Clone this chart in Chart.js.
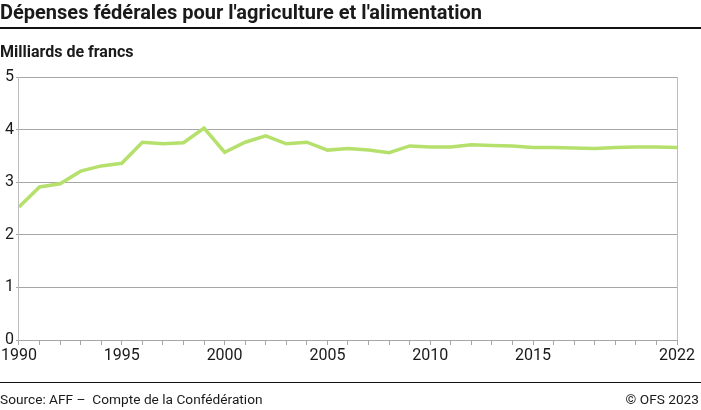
<!DOCTYPE html>
<html><head><meta charset="utf-8">
<script src="https://cdn.jsdelivr.net/npm/chart.js@4/dist/chart.umd.min.js"></script>
<style>
html,body{margin:0;padding:0;background:#fff;}
#wrap{position:relative;width:701px;height:410px;overflow:hidden;font-family:Roboto,sans-serif;color:#1a1a1a;}
#title{position:absolute;left:0;top:0;font-size:20px;font-weight:700;white-space:nowrap;line-height:24px;}
#tline{position:absolute;left:0;top:27px;width:701px;height:1.5px;background:#111;}
#sub{position:absolute;left:0;top:42px;font-size:16px;font-weight:700;white-space:nowrap;line-height:20px;}
#fline{position:absolute;left:0;top:382px;width:701px;height:1px;background:#111;}
#src{position:absolute;left:0;top:391px;font-size:13.7px;white-space:nowrap;line-height:16px;}
#copy{position:absolute;right:2px;top:391px;font-size:13.7px;white-space:nowrap;line-height:16px;}
canvas{position:absolute;left:0;top:0;}
</style></head>
<body><div id="wrap">
<canvas id="c" width="701" height="410"></canvas>
<div id="title">Dépenses fédérales pour l'agriculture et l'alimentation</div>
<div id="tline"></div>
<div id="sub">Milliards de francs</div>
<div id="fline"></div>
<div id="src">Source: AFF –&nbsp; Compte de la Confédération</div>
<div id="copy">© OFS 2023</div>
</div>
<script>
const years = [1990,1991,1992,1993,1994,1995,1996,1997,1998,1999,2000,2001,2002,2003,2004,2005,2006,2007,2008,2009,2010,2011,2012,2013,2014,2015,2016,2017,2018,2019,2020,2021,2022];
const spending = [2.53,2.91,2.97,3.21,3.31,3.36,3.76,3.73,3.75,4.03,3.57,3.76,3.88,3.73,3.76,3.61,3.64,3.61,3.56,3.69,3.67,3.67,3.71,3.70,3.69,3.66,3.66,3.65,3.64,3.66,3.67,3.67,3.66];
const xTickLabels = [1990,1995,2000,2005,2010,2015,2022];
const yTicks = [0,1,2,3,4,5];

const gridGray = '#a6a6a6';
const axisGray = '#bdbdbd';
new Chart(document.getElementById('c'), {
  type: 'line',
  data: {
    datasets: [{
      data: years.map((y,i)=>({x:y,y:spending[i]})),
      borderColor: '#b6e06c',
      borderWidth: 3.5,
      pointRadius: 0,
      tension: 0,
      fill: false
    }]
  },
  options: {
    responsive: false,
    animation: false,
    devicePixelRatio: 1,
    layout: { padding: { top: 77, right: 24, left: 0, bottom: 0 } },
    plugins: { legend: { display: false }, tooltip: { enabled: false } },
    scales: {
      x: {
        type: 'linear', min: 1990, max: 2022,
        afterBuildTicks: s => { s.ticks = years.map(v=>({value:v})); },
        afterFit: s => { s.height = 70; },
        grid: {
          color: c => (c.tick && c.tick.value === 2022) ? axisGray : 'rgba(0,0,0,0)',
          tickColor: gridGray, tickLength: 5, lineWidth: 1
        },
        border: { display: true, color: gridGray, width: 1 },
        ticks: {
          autoSkip: false, maxRotation: 0, padding: 1,
          color: '#1a1a1a', font: { family: 'Roboto', size: 16 },
          callback: v => xTickLabels.includes(v) ? String(v) : ''
        }
      },
      y: {
        min: 0, max: 5,
        afterBuildTicks: s => { s.ticks = yTicks.map(v=>({value:v})); },
        afterFit: s => { s.width = 18; },
        grid: { color: gridGray, tickColor: gridGray, tickLength: 3, lineWidth: 1 },
        border: { display: true, color: axisGray, width: 1 },
        ticks: { padding: 2, color: '#1a1a1a', font: { family: 'Roboto', size: 16 } }
      }
    }
  }
});
</script>
</body></html>
